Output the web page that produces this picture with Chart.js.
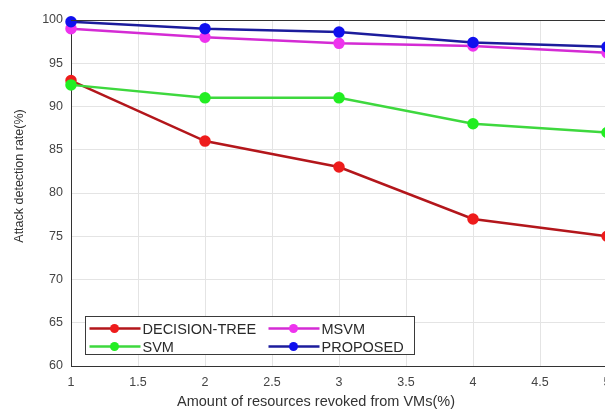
<!DOCTYPE html>
<html>
<head>
<meta charset="utf-8">
<script src="https://cdn.jsdelivr.net/npm/chart.js@4/dist/chart.umd.min.js"></script>
<style>
  html, body { margin: 0; padding: 0; background: #fff; overflow: hidden; width: 605px; height: 410px; }
  #wrap { position: relative; width: 640px; height: 410px; }
</style>
</head>
<body>
<div id="wrap"><canvas id="attackChart" width="640" height="410"></canvas></div>
<script>
// values
const resourcesRevoked = [1, 2, 3, 4, 5];
const decisionTree = [93, 86, 83, 77, 75];
const svm = [92.5, 91, 91, 88, 87];
const msvm = [99, 98, 97.3, 97, 96.2];
const proposed = [99.8, 99, 98.6, 97.4, 96.9];

const seriesNames = ["DECISION-TREE", "SVM", "MSVM", "PROPOSED"];
const lineColors = ["#b3161b", "#3ed83e", "#d42bd4", "#1c1c9c"];
const markerColors = ["#ee1c1c", "#22ee22", "#ee33ee", "#1010ee"];

const xTitle = "Amount of resources revoked from VMs(%)";
const yTitle = "Attack detection rate(%)";

const FONT = "'Liberation Sans', Arial, sans-serif";

function toPoints(values) {
  return values.map((v, i) => ({ x: resourcesRevoked[i], y: v }));
}

const allSeries = [decisionTree, svm, msvm, proposed];

// box top, axis titles and legend inside bottom-left, like the matlab figure
const boxAndLegend = {
  id: "boxAndLegend",
  afterDatasetsDraw(chart) {
    const { ctx, chartArea } = chart;
    ctx.save();
    ctx.strokeStyle = "#333";
    ctx.lineWidth = 1;
    ctx.beginPath();
    ctx.moveTo(chartArea.left, chartArea.top + 0.5);
    ctx.lineTo(chartArea.right, chartArea.top + 0.5);
    ctx.stroke();

    // axis titles (the original sits a bit off-centre)
    ctx.fillStyle = "#333";
    ctx.textAlign = "center";
    ctx.textBaseline = "middle";
    ctx.font = "14.5px " + FONT;
    ctx.fillText(xTitle, chartArea.left + 245, chartArea.bottom + 36);
    ctx.save();
    ctx.translate(20, chartArea.top + 156);
    ctx.rotate(-Math.PI / 2);
    ctx.font = "12.5px " + FONT;
    ctx.fillText(yTitle, 0, 0);
    ctx.restore();

    // legend
    const bx = chartArea.left + 14.5, by = chartArea.bottom - 49.5;
    const bw = 329, bh = 38;
    ctx.fillStyle = "#fff";
    ctx.fillRect(bx, by, bw, bh);
    ctx.strokeStyle = "#3a3a3a";
    ctx.strokeRect(bx, by, bw, bh);

    const cols = [bx + 4, bx + 183];
    const rows = [by + 12, by + 30];
    const slots = [[0, 0], [0, 1], [1, 0], [1, 1]]; // [col,row] per dataset
    ctx.font = "14.5px " + FONT;
    ctx.textAlign = "left";
    ctx.textBaseline = "middle";
    chart.data.datasets.forEach((ds, i) => {
      const x0 = cols[slots[i][0]], y0 = rows[slots[i][1]];
      ctx.strokeStyle = ds.borderColor;
      ctx.lineWidth = 2.5;
      ctx.beginPath();
      ctx.moveTo(x0, y0);
      ctx.lineTo(x0 + 51, y0);
      ctx.stroke();
      ctx.fillStyle = ds.pointBackgroundColor;
      ctx.beginPath();
      ctx.arc(x0 + 25, y0, 4.5, 0, Math.PI * 2);
      ctx.fill();
      ctx.fillStyle = "#2a2a2a";
      ctx.fillText(ds.label, x0 + 53, y0 + 1);
    });
    ctx.restore();
  }
};

new Chart(document.getElementById("attackChart"), {
  type: "line",
  data: {
    datasets: allSeries.map((vals, i) => ({
      label: seriesNames[i],
      data: toPoints(vals),
      borderColor: lineColors[i],
      backgroundColor: markerColors[i],
      pointBackgroundColor: markerColors[i],
      pointBorderColor: markerColors[i],
      pointRadius: 4.5,
      borderWidth: 2.5,
      tension: 0,
      fill: false,
      clip: false,
      order: allSeries.length - i
    }))
  },
  options: {
    responsive: false,
    animation: false,
    events: [],
    layout: { padding: { left: 0, right: 33, top: 20, bottom: 0 } },
    plugins: { legend: { display: false }, tooltip: { enabled: false } },
    scales: {
      x: {
        type: "linear",
        min: 1,
        max: 5,
        ticks: {
          stepSize: 0.5,
          padding: 9,
          color: "#444",
          font: { family: FONT, size: 12.5 },
          maxRotation: 0,
          callback: (v) => String(v)
        },
        grid: { color: "#e4e4e4", drawTicks: false },
        border: { color: "#333", width: 1 },
        afterFit(scale) { scale.height = 44; }
      },
      y: {
        min: 60,
        max: 100,
        ticks: {
          stepSize: 5,
          padding: 8,
          color: "#444",
          font: { family: FONT, size: 12.5 }
        },
        grid: { color: "#e4e4e4", drawTicks: false },
        border: { color: "#333", width: 1 },
        afterFit(scale) { scale.width = 71; }
      }
    }
  },
  plugins: [boxAndLegend]
});
</script>
</body>
</html>
